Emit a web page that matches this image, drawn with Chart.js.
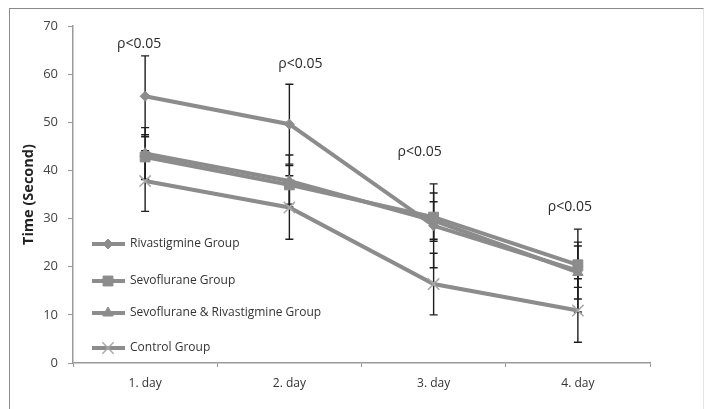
<!DOCTYPE html>
<html>
<head>
<meta charset="utf-8">
<script src="https://cdn.jsdelivr.net/npm/chart.js@4.4.1/dist/chart.umd.min.js"></script>
<style>
  html, body { margin: 0; padding: 0; background: #fff; overflow: hidden; }
  .frame { position: absolute; left: 9px; top: 8px; width: 693px; height: 420px;
           border-top: 1px solid #8a8a8a; border-left: 1px solid #8a8a8a; border-right: 1px solid #e4e4e4; }
  #chart { position: absolute; left: 0; top: 0; }
</style>
</head>
<body>
<div class="frame"></div>
<canvas id="chart" width="705" height="409"></canvas>
<script>
// ---- data ----
const days = ['1. day', '2. day', '3. day', '4. day'];
const groupNames = ['Rivastigmine Group', 'Sevoflurane Group', 'Sevoflurane & Rivastigmine Group', 'Control Group'];

const rivastigmine = [55.4, 49.6, 28.5, 19.2];
const sevoflurane = [42.8, 37.0, 30.3, 20.4];
const sevoRiva = [43.5, 37.8, 29.6, 18.8];
const control = [37.8, 32.3, 16.4, 10.9];

const rivastigmineSd = [8.4, 8.3, 8.7, 8.6];
const sevofluraneSd = [4.6, 4.0, 5.0, 4.7];
const sevoRivaSd = [5.4, 5.4, 3.9, 5.5];
const controlSd = [6.3, 6.6, 6.4, 6.6];

const pLabels = ['ρ<0.05', 'ρ<0.05', 'ρ<0.05', 'ρ<0.05'];
const pLabelY = [66.3, 62.0, 43.9, 32.4];

const yTicks = [0, 10, 20, 30, 40, 50, 60, 70];

const lineGray = '#8c8c8c';

// error bars drawn under the markers
const errorBars = {
  id: 'errorBars',
  beforeDatasetsDraw(chart) {
    const { ctx, scales: { x, y } } = chart;
    ctx.save();
    ctx.strokeStyle = '#1e1e1e';
    ctx.lineWidth = 1.4;
    chart.data.datasets.forEach(ds => {
      ds.data.forEach((v, i) => {
        const px = x.getPixelForValue(i);
        const top = y.getPixelForValue(v + ds.sd[i]);
        const bot = y.getPixelForValue(v - ds.sd[i]);
        ctx.beginPath();
        ctx.moveTo(px, top); ctx.lineTo(px, bot);
        ctx.moveTo(px - 4, top); ctx.lineTo(px + 4, top);
        ctx.moveTo(px - 4, bot); ctx.lineTo(px + 4, bot);
        ctx.stroke();
      });
    });
    ctx.restore();
  }
};

// significance labels above each day
const pText = {
  id: 'pText',
  afterDatasetsDraw(chart, args, opts) {
    const { ctx, scales: { x, y } } = chart;
    ctx.save();
    ctx.font = '14px "Open Sans", sans-serif';
    ctx.fillStyle = '#2a2a2a';
    ctx.textAlign = 'center';
    ctx.textBaseline = 'middle';
    pLabels.forEach((t, i) => {
      ctx.fillText(t, x.getPixelForValue(i) + opts.dx[i], y.getPixelForValue(pLabelY[i]));
    });
    ctx.restore();
  }
};

// legend with a short line and the marker on it, inside the plot
const lineLegend = {
  id: 'lineLegend',
  afterDraw(chart, args, opts) {
    const { ctx } = chart;
    ctx.save();
    chart.data.datasets.forEach((ds, i) => {
      const yy = opts.rows[i];
      ctx.strokeStyle = ds.borderColor;
      ctx.lineWidth = 4;
      ctx.beginPath();
      ctx.moveTo(opts.left, yy); ctx.lineTo(opts.left + 33, yy);
      ctx.stroke();
      ctx.fillStyle = ds.pointBackgroundColor;
      ctx.strokeStyle = ds.pointBorderColor;
      ctx.lineWidth = ds.pointBorderWidth;
      Chart.helpers.drawPoint(ctx, {
        pointStyle: ds.pointStyle, radius: ds.pointRadius, borderWidth: ds.pointBorderWidth
      }, opts.left + 16, yy);
      ctx.fillStyle = '#333';
      ctx.font = '12px "Open Sans", sans-serif';
      ctx.textBaseline = 'middle';
      ctx.fillText(ds.label, opts.left + 38, yy);
    });
    ctx.restore();
  }
};

function series(label, data, sd, style, radius, extra) {
  return Object.assign({
    label: label,
    data: data,
    sd: sd,
    borderColor: lineGray,
    backgroundColor: lineGray,
    borderWidth: 4,
    pointStyle: style,
    pointRadius: radius,
    pointBackgroundColor: lineGray,
    pointBorderColor: lineGray,
    pointBorderWidth: 1,
    tension: 0
  }, extra || {});
}

new Chart(document.getElementById('chart'), {
  type: 'line',
  data: {
    labels: days,
    datasets: [
      series(groupNames[0], rivastigmine, rivastigmineSd, 'rectRot', 5),
      series(groupNames[1], sevoflurane, sevofluraneSd, 'rect', 7),
      series(groupNames[2], sevoRiva, sevoRivaSd, 'triangle', 6),
      series(groupNames[3], control, controlSd, 'crossRot', 8, { pointBorderColor: '#a8a8a8', pointBorderWidth: 1.5 })
    ]
  },
  options: {
    responsive: false,
    animation: false,
    layout: { padding: { left: 10, right: 55, top: 26, bottom: 10 } },
    plugins: {
      legend: { display: false },
      tooltip: { enabled: false },
      pText: { dx: [-6, 11, -14, -8] },
      lineLegend: { left: 92, rows: [244, 281, 313, 348] }
    },
    scales: {
      x: {
        offset: true,
        grid: { offset: true, drawOnChartArea: false, drawTicks: true, tickLength: 4, color: '#9a9a9a' },
        border: { color: '#9a9a9a', width: 1.5 },
        ticks: { color: '#333', font: { family: '"Open Sans", sans-serif', size: 12 }, padding: 9 },
        afterFit: s => { s.height = 36; }
      },
      y: {
        min: 0, max: 70,
        afterBuildTicks: s => { s.ticks = yTicks.map(v => ({ value: v })); },
        grid: { drawOnChartArea: false, drawTicks: true, tickLength: 5, color: '#9a9a9a' },
        border: { color: '#9a9a9a', width: 1.5 },
        ticks: { color: '#444', font: { family: '"Open Sans", sans-serif', size: 13 }, padding: 10 },
        title: {
          display: true, text: 'Time (Second)', color: '#222',
          font: { family: '"Open Sans", sans-serif', size: 14.5, weight: 'bold' },
          padding: { top: 10, bottom: 0 }
        },
        afterFit: s => { s.width = 63; }
      }
    }
  },
  plugins: [errorBars, pText, lineLegend]
});
</script>
</body>
</html>
